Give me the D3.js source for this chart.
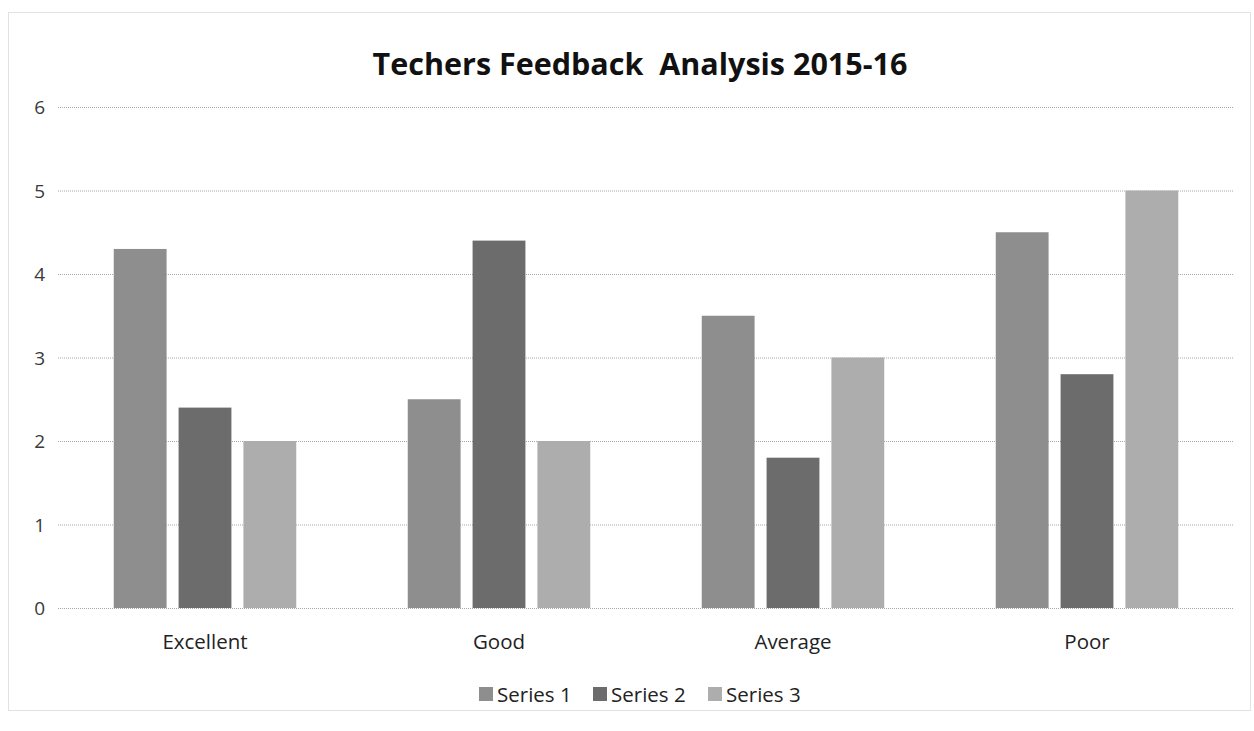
<!DOCTYPE html>
<html>
<head>
<meta charset="utf-8">
<script src="https://cdn.jsdelivr.net/npm/d3@7"></script>
<style>
	body { margin: 0; background: #fff; }
	svg { display: block; font-family: 'Open Sans', 'Noto Sans', sans-serif; }
</style>
</head>
<body>
<div id="chart"></div>
<script>
	let categories = ['Excellent', 'Good', 'Average', 'Poor'],
			seriesNames = ['Series 1', 'Series 2', 'Series 3'],
			series1 = [4.3, 2.5, 3.5, 4.5],
			series2 = [2.4, 4.4, 1.8, 2.8],
			series3 = [2.0, 2.0, 3.0, 5.0],
			yTicks = [0, 1, 2, 3, 4, 5, 6];

	let width = 1254,
			height = 731,
			margin = {top: 107, left: 58, right: 20, bottom: 123},
			colors = ['#8e8e8e', '#6c6c6c', '#adadad'];

	let allSeries = [series1, series2, series3];

	let svg = d3.select('#chart').append('svg')
			.attr('width', width)
			.attr('height', height);

	// outer frame
	svg.append('rect')
			.attr('x', 8.5).attr('y', 12.5)
			.attr('width', 1242).attr('height', 698)
			.attr('fill', 'none')
			.attr('stroke', '#c4c4c4')
			.attr('stroke-dasharray', '1,1');

	let x = d3.scaleBand()
			.domain(categories)
			.range([margin.left, width - margin.right]);

	let xInner = d3.scaleBand()
			.domain(seriesNames)
			.range([0, x.bandwidth()])
			.paddingInner(0.185)
			.paddingOuter(0.86);

	let y = d3.scaleLinear()
			.domain([0, 6])
			.range([height - margin.bottom, margin.top]);

	// gridlines
	svg.append('g')
			.selectAll('line')
			.data(yTicks)
			.enter()
			.append('line')
			.attr('x1', margin.left)
			.attr('x2', width - margin.right)
			.attr('y1', d => y(d) + .5)
			.attr('y2', d => y(d) + .5)
			.attr('stroke', '#a8a8a8')
			.attr('stroke-dasharray', '1,1');

	// y labels
	svg.append('g')
			.selectAll('text')
			.data(yTicks)
			.enter()
			.append('text')
			.attr('x', 45)
			.attr('y', d => y(d) + 7)
			.attr('text-anchor', 'end')
			.attr('fill', '#3a3a3a')
			.style('font-size', '19px')
			.text(d => d);

	// bars
	let groups = svg.append('g')
			.selectAll('g')
			.data(categories)
			.enter()
			.append('g')
			.attr('transform', d => `translate(${x(d)},0)`);

	groups.selectAll('rect')
			.data((d, i) => allSeries.map((s, j) => ({name: seriesNames[j], value: s[i], k: j})))
			.enter()
			.append('rect')
			.attr('x', d => xInner(d.name))
			.attr('width', xInner.bandwidth())
			.attr('y', d => y(d.value))
			.attr('height', d => y(0) - y(d.value))
			.attr('fill', d => colors[d.k]);

	// x labels
	svg.append('g')
			.selectAll('text')
			.data(categories)
			.enter()
			.append('text')
			.attr('x', d => x(d) + x.bandwidth() / 2)
			.attr('y', 649)
			.attr('text-anchor', 'middle')
			.attr('fill', '#222')
			.style('font-size', '20.5px')
			.text(d => d);

	// title
	svg.append('text')
			.attr('x', 640)
			.attr('y', 75)
			.attr('text-anchor', 'middle')
			.attr('fill', '#111')
			.style('font-size', '30.5px')
			.style('font-weight', 700)
			.attr('xml:space', 'preserve')
			.text('Techers Feedback  Analysis 2015-16');

	// legend
	let legendX = [479, 593, 708];
	let legend = svg.append('g')
			.selectAll('g')
			.data(seriesNames)
			.enter()
			.append('g')
			.attr('transform', (d, i) => `translate(${legendX[i]},702)`);

	legend.append('rect')
			.attr('x', 0).attr('y', -15)
			.attr('width', 14).attr('height', 14)
			.attr('fill', (d, i) => colors[i]);

	legend.append('text')
			.attr('x', 18)
			.attr('y', 0)
			.attr('fill', '#222')
			.style('font-size', '20.5px')
			.text(d => d);
</script>
</body>
</html>
